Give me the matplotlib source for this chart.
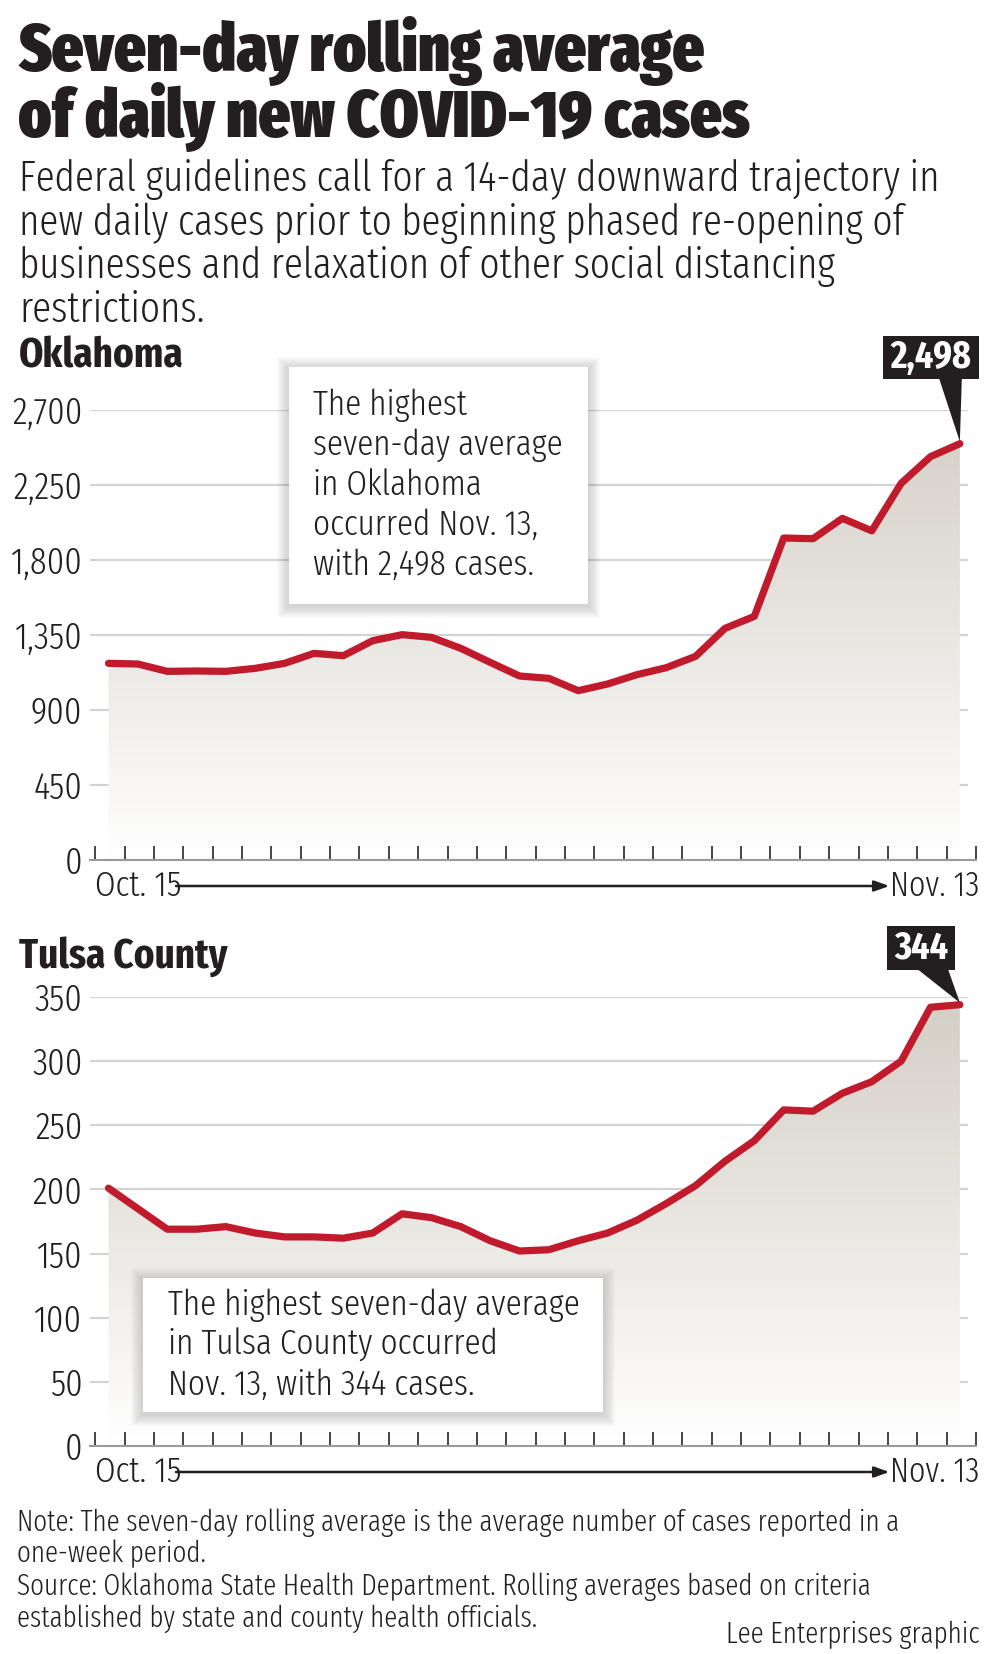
import numpy as np
import matplotlib
matplotlib.use("Agg")
import matplotlib.pyplot as plt
from matplotlib.patches import Rectangle, Polygon
from matplotlib.transforms import ScaledTranslation

FONT = ["Fira Sans Extra Condensed", "DejaVu Sans"]
plt.rcParams["font.family"] = FONT
plt.rcParams["font.weight"] = 300

# Seven-day averages, Oct. 15 .. Nov. 13
days = np.arange(30)
oklahoma = [1180, 1176, 1132, 1134, 1132, 1150, 1180, 1240, 1226, 1316,
            1352, 1336, 1270, 1186, 1104, 1090, 1016, 1056, 1112, 1154,
            1222, 1390, 1462, 1932, 1928, 2050, 1975, 2260, 2420, 2498]
tulsa = [201, 185, 169, 169, 171, 166, 163, 163, 162, 166,
         181, 178, 171, 160, 152, 153, 160, 166, 176, 189,
         203, 222, 238, 262, 261, 275, 284, 300, 342, 344]
ok_ticks = [0, 450, 900, 1350, 1800, 2250, 2700]
tulsa_ticks = [0, 50, 100, 150, 200, 250, 300, 350]
date_labels = ["Oct. 15", "Nov. 13"]

W, H = 1006, 1654
RED = "#c01a2c"
DARK = "#231f20"
fig = plt.figure(figsize=(W / 100, H / 100), dpi=100)


def fx(px):
    return px / W


def fy(py):
    return 1 - py / H


def shadow_box(x0, y0, x1, y1):
    # soft shadow made of a few growing translucent rectangles
    for k in range(12, 0, -1):
        fig.add_artist(Rectangle((fx(x0 - k), fy(y1 + k + 2)), (x1 - x0 + 2 * k) / W,
                                 (y1 - y0 + 2 * k) / H, transform=fig.transFigure,
                                 color="#666666", alpha=0.022, lw=0, zorder=5))
    fig.add_artist(Rectangle((fx(x0), fy(y1)), (x1 - x0) / W, (y1 - y0) / H,
                             transform=fig.transFigure, color="white", lw=0, zorder=6))


def panel(bottom_px, top_px, values, ticks, label, box, pointer):
    ax = fig.add_axes([fx(90), fy(bottom_px), 886 / W, (bottom_px - top_px) / H])
    ymax = ticks[-1]
    xmin, xmax = -0.63, 29.55
    ax.set_xlim(xmin, xmax)
    ax.set_ylim(0, ymax)

    # gradient fill under the line
    grad = np.linspace(0, 1, 256)[:, None, None]
    top_col = np.array([0.83, 0.81, 0.77])
    img = 1 - grad * (1 - top_col)
    im = ax.imshow(img, extent=(xmin, xmax, 0, ymax), origin="lower",
                   aspect="auto", zorder=1)
    poly = Polygon(np.column_stack([np.r_[days, days[::-1]],
                                    np.r_[values, np.zeros(len(days))]]),
                   closed=True, facecolor="none", edgecolor="none",
                   transform=ax.transData)
    ax.add_patch(poly)
    im.set_clip_path(poly)

    ax.hlines(ticks[1:], xmin, 29.28, color="#d2d2d2", lw=1.6, zorder=0)
    ax.plot(days, values, color=RED, lw=5.2, solid_joinstyle="round",
            solid_capstyle="round", zorder=4)

    ax.set_yticks(ticks)
    ax.set_yticklabels([f"{t:,}" for t in ticks], fontsize=27, color=DARK)
    ax.tick_params(axis="y", length=0, pad=5.5)

    ax.set_xticks(np.arange(31) - 0.45)
    ax.set_xticklabels([])
    ax.tick_params(axis="x", direction="in", length=10, width=1.4, color="#444444")
    for s in ["top", "right", "left"]:
        ax.spines[s].set_visible(False)
    ax.spines["bottom"].set_color("#9a9a9a")
    ax.spines["bottom"].set_linewidth(1.5)

    below = ax.get_xaxis_transform() + ScaledTranslation(0, -0.26, fig.dpi_scale_trans)
    ax.text(-0.45, 0, date_labels[0], transform=below, ha="left", va="center",
            fontsize=26, color=DARK)
    ax.text(29.65, 0, date_labels[1], transform=below, ha="right", va="center",
            fontsize=25, color=DARK)
    ax.annotate("", xy=(26.6, 0), xycoords=below, xytext=(2.3, 0), textcoords=below,
                arrowprops=dict(arrowstyle="-|>,head_length=0.9,head_width=0.32",
                                color=DARK, lw=1.8, shrinkA=0, shrinkB=0))

    # peak label with pointer
    fig.canvas.draw()
    tx, ty = ax.transData.transform((days[-1], values[-1]))
    tip_x, tip_y = tx, H - ty - 2
    bx0, bx1, by0, by1, px0, px1 = pointer
    fig.add_artist(Rectangle((fx(tip_x + bx0), fy(tip_y + by1)), (bx1 - bx0) / W,
                             (by1 - by0) / H, transform=fig.transFigure,
                             color=DARK, lw=0, zorder=7))
    fig.add_artist(Polygon([(fx(tip_x + px0), fy(tip_y + by1 - 1)),
                            (fx(tip_x + px1), fy(tip_y + by1 - 1)),
                            (fx(tip_x), fy(tip_y))], closed=True,
                           transform=fig.transFigure, color=DARK, lw=0, zorder=7))
    fig.text(fx(tip_x + (bx0 + bx1) / 2), fy(tip_y + (by0 + by1) / 2 + 1),
             f"{values[-1]:,}", color="white", fontsize=28, fontweight=700,
             ha="center", va="center", zorder=8)

    x0, y0, x1, y1, tx0, ty0, lines = box
    shadow_box(x0, y0, x1, y1)
    for i, line in enumerate(lines):
        fig.text(fx(tx0), fy(ty0 + i * 40), line, fontsize=26, color=DARK,
                 ha="left", va="center", zorder=8)
    fig.text(fx(19), fy(label[1]), label[0], fontsize=30.5, fontweight=700,
             color=DARK, ha="left", va="baseline")
    return ax


# title and intro
fig.text(fx(18), fy(71), "Seven-day rolling average", fontsize=48.5, fontweight=900,
         color=DARK, ha="left", va="baseline")
fig.text(fx(18), fy(137), "of daily new COVID-19 cases", fontsize=48.5, fontweight=900,
         color=DARK, ha="left", va="baseline")
intro = ["Federal guidelines call for a 14-day downward trajectory in",
         "new daily cases prior to beginning phased re-opening of",
         "businesses and relaxation of other social distancing",
         "restrictions."]
for i, line in enumerate(intro):
    fig.text(fx(19), fy(191 + i * 43.7), line, fontsize=30.6, color=DARK,
             ha="left", va="baseline")

panel(860, 410, oklahoma, ok_ticks, ("Oklahoma", 368),
      (289, 367, 588, 604, 313, 405,
       ["The highest", "seven-day average", "in Oklahoma",
        "occurred Nov. 13,", "with 2,498 cases."]),
      (-77, 19, -106, -63, -21, 2))
panel(1446, 997, tulsa, tulsa_ticks, ("Tulsa County", 968),
      (143, 1278, 603, 1412, 168, 1305,
       ["The highest seven-day average", "in Tulsa County occurred",
        "Nov. 13, with 344 cases."]),
      (-73, -5, -77, -33, -43, -12))

notes = ["Note: The seven-day rolling average is the average number of cases reported in a",
         "one-week period.",
         "Source: Oklahoma State Health Department. Rolling averages based on criteria",
         "established by state and county health officials."]
for i, line in enumerate(notes):
    fig.text(fx(17), fy([1531, 1562, 1595, 1627][i]), line, fontsize=21.2,
             color=DARK, ha="left", va="baseline")
fig.text(fx(980), fy(1643), "Lee Enterprises graphic", fontsize=21.2, color=DARK,
         ha="right", va="baseline")

fig.savefig("out.png", dpi=100, facecolor="white")
